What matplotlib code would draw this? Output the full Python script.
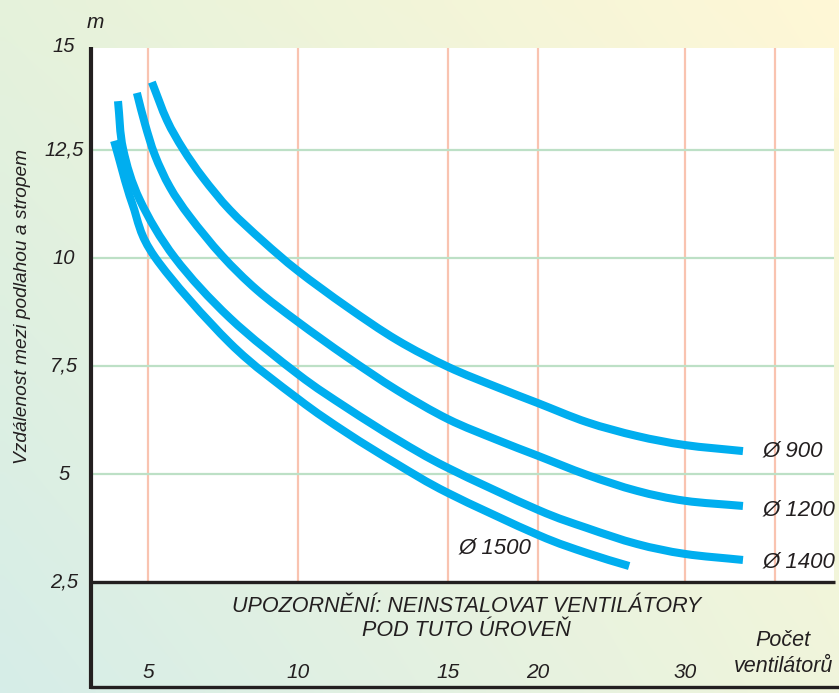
import numpy as np
import matplotlib
matplotlib.use('Agg')
import matplotlib.pyplot as plt
from matplotlib.lines import Line2D
from matplotlib.path import Path
from matplotlib.patches import PathPatch

# pocet ventilatoru (x) vs vzdalenost mezi podlahou a stropem (y), m
x900 = [5.13, 5.63, 6.17, 6.83, 7.73, 8.83, 10.0, 11.63, 13.3, 15.0, 17.72, 20.0, 23.33, 26.73, 30.0, 36.44]
y900 = [14.07, 13.19, 12.52, 11.86, 11.11, 10.39, 9.70, 8.87, 8.10, 7.48, 7.01, 6.64, 6.20, 5.88, 5.67, 5.53]

x1200 = [4.63, 4.9, 5.23, 5.73, 6.4, 7.47, 8.63, 10.0, 11.63, 13.3, 15.0, 17.72, 20.0, 23.33, 26.73, 30.0, 36.44]
y1200 = [13.82, 13.10, 12.38, 11.64, 10.95, 10.05, 9.26, 8.52, 7.71, 6.94, 6.27, 5.79, 5.42, 4.98, 4.61, 4.38, 4.26]

x1400 = [4.0, 4.17, 4.73, 5.9, 7.73, 10.0, 11.63, 13.3, 15.0, 20.0, 23.33, 26.73, 30.0, 36.44]
y1400 = [13.63, 12.52, 11.34, 10.0, 8.61, 7.31, 6.53, 5.80, 5.14, 4.17, 3.75, 3.38, 3.15, 3.01]

x1500 = [3.87, 4.47, 5.23, 7.73, 10.0, 11.63, 13.3, 15.0, 20.0, 23.33, 26.2]
y1500 = [12.71, 11.27, 10.02, 8.03, 6.74, 5.95, 5.23, 4.56, 3.59, 3.17, 2.87]

x_ticks = [5, 10, 15, 20, 30, 40]
x_labels = ['5', '10', '15', '20', '30', '']
y_ticks = [2.5, 5, 7.5, 10, 12.5, 15]
y_labels = ['2,5', '5', '7,5', '10', '12,5', '15']

# nelinearni osa x (rozestupy jako v originalu)
_xv = [0, 5, 10, 15, 20, 30, 40, 50]
_xp = [-2, 148, 298, 448, 538, 685, 775, 865]

def fwd(v):
    return np.interp(v, _xv, _xp)

def inv(p):
    return np.interp(p, _xp, _xv)

YPX = 43.2  # px na metr

def smooth_path(xs, ys):
    # hladka krivka (Catmull-Rom -> Bezier) pres nactene body
    P = np.column_stack([fwd(np.array(xs)), np.array(ys) * YPX])
    P = np.vstack([2 * P[0] - P[1], P, 2 * P[-1] - P[-2]])
    verts = [P[1]]
    codes = [Path.MOVETO]
    for i in range(1, len(P) - 2):
        c1 = P[i] + (P[i + 1] - P[i - 1]) / 6
        c2 = P[i + 1] - (P[i + 2] - P[i]) / 6
        verts += [c1, c2, P[i + 1]]
        codes += [Path.CURVE4] * 3
    verts = np.array(verts)
    verts = np.column_stack([inv(verts[:, 0]), verts[:, 1] / YPX])
    return Path(verts, codes)

W, H = 839, 693
fig = plt.figure(figsize=(W / 100, H / 100), dpi=100)

# pozadi s prechodem
bg = fig.add_axes([0, 0, 1, 1], zorder=-5)
tl = np.array([0.90, 0.95, 0.86])
tr = np.array([1.00, 0.97, 0.84])
bl = np.array([0.84, 0.93, 0.91])
br = np.array([0.94, 0.96, 0.86])
u = np.linspace(0, 1, 100)[None, :, None]
v = np.linspace(0, 1, 100)[:, None, None]
img = (1 - v) * ((1 - u) * tl + u * tr) + v * ((1 - u) * bl + u * br)
bg.imshow(img, aspect='auto', extent=[0, 1, 0, 1], interpolation='bilinear')
bg.set_axis_off()

ax = fig.add_axes([92 / W, (H - 582) / H, 742 / W, 534 / H])
ax.set_facecolor('white')
ax.set_xscale('function', functions=(fwd, inv))
ax.set_xlim(inv(92), inv(834))
ax.set_ylim(2.5, 14.86)
ax.set_xticks(x_ticks)
ax.set_yticks(y_ticks[1:5])
ax.tick_params(length=0, labelbottom=False, labelleft=False)
ax.xaxis.grid(True, color='#f9c3b0', lw=1.6)
ax.yaxis.grid(True, color='#bde0c6', lw=1.6)
ax.set_axisbelow(True)
for s in ax.spines.values():
    s.set_visible(False)

blue = '#00aeef'
for xs, ys in [(x900, y900), (x1200, y1200), (x1400, y1400), (x1500, y1500)]:
    ax.add_patch(PathPatch(smooth_path(xs, ys), fill=False, edgecolor=blue, lw=5.8,
                           capstyle='butt', joinstyle='round'))

fnt = dict(family='Liberation Sans', style='italic', color='#231f20')

# popisky prumeru
ax.text(inv(763), 5.53, 'Ø 900', fontsize=16, ha='left', va='center', **fnt)
ax.text(inv(763), 4.17, 'Ø 1200', fontsize=16, ha='left', va='center', **fnt)
ax.text(inv(763), 2.97, 'Ø 1400', fontsize=16, ha='left', va='center', clip_on=False, **fnt)
ax.text(inv(459), 3.29, 'Ø 1500', fontsize=16, ha='left', va='center', **fnt)

# osy - popisky
for t, lab in zip(x_ticks, x_labels):
    fig.text(fwd(t) / W, (H - 673) / H, lab, fontsize=15, ha='center', va='center', **fnt)

for t, lab in zip(y_ticks, y_labels):
    yy = (H - (582 - (t - 2.5) * YPX)) / H
    if t == 15:
        yy = (H - 46) / H
    fig.text(64 / W, yy, lab, fontsize=14.5, ha='center', va='center', **fnt)

fig.text(95 / W, (H - 22) / H, 'm', fontsize=15, ha='center', va='center', **fnt)
fig.text(23 / W, (H - 306) / H, 'Vzdálenost mezi podlahou a stropem', rotation=90,
         fontsize=13.8, ha='center', va='center', **fnt)

fig.text(467 / W, (H - 607) / H, 'UPOZORNĚNÍ: NEINSTALOVAT VENTILÁTORY', fontsize=15.5,
         ha='center', va='center', **fnt)
fig.text(466 / W, (H - 631) / H, 'POD TUTO ÚROVEŇ', fontsize=15.5, ha='center', va='center', **fnt)
fig.text(783 / W, (H - 641) / H, 'Počet', fontsize=15.5, ha='center', va='center', **fnt)
fig.text(784 / W, (H - 667) / H, 'ventilátorů', fontsize=15.5, ha='center', va='center', **fnt)

# cerne cary ramecku
k = '#231f20'
fig.add_artist(Line2D([91 / W, 91 / W], [(H - 47) / H, (H - 689) / H], color=k, lw=3.0,
                      solid_capstyle='butt'))
fig.add_artist(Line2D([90 / W, 835 / W], [(H - 582) / H, (H - 582) / H], color=k, lw=2.4,
                      solid_capstyle='butt'))
fig.add_artist(Line2D([90 / W, 1.0], [(H - 687) / H, (H - 687) / H], color=k, lw=2.4,
                      solid_capstyle='butt'))

fig.savefig('out.png', dpi=100)
